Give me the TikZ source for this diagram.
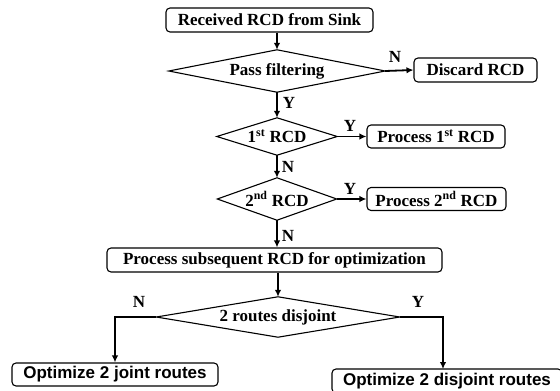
\documentclass[tikz,border=0pt]{standalone}
\usepackage{fontspec}
\setmainfont{Liberation Serif}
\newfontfamily\arialfont{Liberation Sans}
\usetikzlibrary{arrows.meta,calc}
\begin{document}
\begin{tikzpicture}[x=1pt,y=-1pt,
  box/.style={draw,line width=1.1pt,rounded corners=4pt,inner sep=0pt,
    font=\fontsize{17}{20}\selectfont\bfseries},
  sbox/.style={box,font=\arialfont\fontsize{17}{20}\selectfont\bfseries},
  dia/.style={inner sep=0pt,font=\fontsize{17}{20}\selectfont\bfseries},
  dline/.style={line width=1.1pt,line join=miter},
  arr/.style={line width=1.8pt,-{Latex[length=7pt,width=6.5pt]}},
  lab/.style={font=\fontsize{17}{20}\selectfont\bfseries,inner sep=0pt}]
\useasboundingbox (0,0) rectangle (560,391);
\node[box,minimum width=207pt,minimum height=24pt] (recv) at (269.5,20) {Received RCD from Sink};
\node[dia,minimum width=216pt,minimum height=42pt] (pass) at (277,71) {Pass filtering};
\node[box,minimum width=123pt,minimum height=24pt] (discard) at (475.5,70) {Discard RCD};
\node[dia,minimum width=120pt,minimum height=37pt] (rcd1) at (277,136.5) {1\textsuperscript{st} RCD};
\node[box,minimum width=138pt,minimum height=23pt] (proc1) at (436,136.5) {Process 1\textsuperscript{st} RCD};
\node[dia,minimum width=119pt,minimum height=42pt] (rcd2) at (277,199) {2\textsuperscript{nd} RCD};
\node[box,minimum width=139pt,minimum height=23pt] (proc2) at (436.5,199) {Process 2\textsuperscript{nd} RCD};
\node[box,minimum width=335pt,minimum height=24pt] (sub) at (274.5,260) {Process subsequent RCD for optimization};
\node[dia,minimum width=243pt,minimum height=40pt] (routes) at (278,317) {2 routes disjoint};
\node[sbox,minimum width=206pt,minimum height=23pt] (joint) at (115,374.5) {Optimize 2 joint routes};
\node[sbox,minimum width=230pt,minimum height=24pt] (disj) at (447,381) {Optimize 2 disjoint routes};
\coordinate (dtop) at (443,369);

\foreach \d in {pass,rcd1,rcd2,routes}
  \draw[dline] (\d.west) -- (\d.north) -- (\d.east) -- (\d.south) -- cycle;

\draw[arr] (recv.south -| pass.north) -- (pass.north);
\draw[arr] (pass.east) -- (discard.west);
\draw[arr] (pass.south) -- (rcd1.north);
\draw[arr] (rcd1.east) -- (proc1.west);
\draw[arr] (rcd1.south) -- (rcd2.north);
\draw[arr] (rcd2.east) -- (proc2.west);
\draw[arr] (rcd2.south) -- (sub.north -| rcd2.south);
\draw[arr] (sub.south -| routes.north) -- (routes.north);
\draw[arr] (routes.west) -| (joint.north);
\draw[arr] (routes.east) -| (dtop);

\node[lab] (lN1) at (395,57) {N};
\node[lab] (lY1) at (289,103) {Y};
\node[lab] (lY2) at (350,126) {Y};
\node[lab] (lN2) at (288,167) {N};
\node[lab] (lY3) at (350,189) {Y};
\node[lab] (lN3) at (288,236) {N};
\node[lab] (lN4) at (139,302) {N};
\node[lab] (lY4) at (418,302) {Y};
\end{tikzpicture}
\end{document}
